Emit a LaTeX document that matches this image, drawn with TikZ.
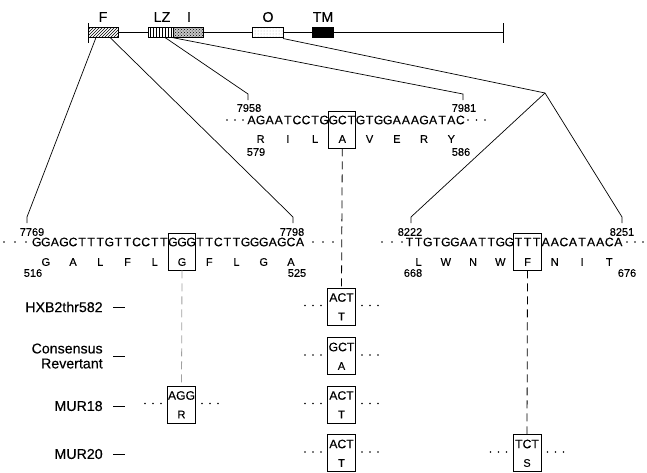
\documentclass[tikz,border=0pt]{standalone}
\usepackage{fontspec}
\setmainfont[FakeBold=0.3]{Liberation Sans}
\usetikzlibrary{patterns}
\definecolor{linkgray}{RGB}{160,160,160}

\def\ntw{9.08}
% one nucleotide per node, fixed pitch
\newcommand\seqrow[4]{%
  \foreach \nuc [count=\n] in {#4}
    \node[nt] (#1\n) at ({#2+(\n-1)*\ntw},#3) {\nuc};}
% one residue per codon
\newcommand\aarow[4]{%
  \foreach \res [count=\n] in {#4}
    \node[aa] (#1\n) at ({#2+(\n-1)*3*\ntw},#3) {\res};}
\newcommand\threedots[3]{%
  \foreach \k in {0,1,2} \fill ({#1+\k*#3},#2) circle (0.9pt);}
% name, x, y, codon, residue
\newcommand\varbox[5]{%
  \node[vbox] (#1) at (#2,#3) {};
  \node[nt] (#1c) at (#2,#3-9) {#4};
  \node[aa] (#1a) at (#2,#3+10) {#5};
  \foreach \d in {20.5,28.5,36.5} {
    \fill ({#2-\d},#3-1) circle (0.9pt);
    \fill ({#2+\d},#3-1) circle (0.9pt);}}

\begin{document}
\begin{tikzpicture}[x=1pt,y=-1pt,line width=0.7pt,
    nt/.style={inner sep=0pt,font=\fontsize{12.2}{14}\selectfont},
    aa/.style={inner sep=0pt,font=\fontsize{11}{13}\selectfont},
    num/.style={inner sep=0pt,font=\fontsize{11}{13}\selectfont},
    lbl/.style={inner sep=0pt,font=\fontsize{14.2}{15}\selectfont},
    dom/.style={draw,line width=0.8pt,minimum height=9.4pt,inner sep=0pt,preaction={fill=white}},
    cbox/.style={draw,line width=0.9pt,minimum width=27.2pt,minimum height=37pt,inner sep=0pt},
    vbox/.style={draw,line width=0.9pt,minimum width=28pt,minimum height=37pt,inner sep=0pt},
    link/.style={dash pattern=on 8pt off 5pt,line width=0.8pt}]
  \useasboundingbox (0,0) rectangle (647,472);
  % Genome map
  \draw (88,32.5) -- (503,32.5);
  \draw (88,23) -- (88,43);
  \draw (503,23) -- (503,43);
  \node[dom,minimum width=30pt,pattern=north east lines] (domF) at (103,32.5) {};
  \node[dom,minimum width=25pt,pattern=vertical lines] (domLZ) at (160.5,32.5) {};
  \node[dom,minimum width=30pt,preaction={fill=gray!45},pattern=crosshatch dots] (domI) at (188,32.5) {};
  \node[dom,minimum width=31pt,pattern=dots,pattern color=gray!60] (domO) at (267.5,32.5) {};
  \node[dom,minimum width=21pt,fill=black] (domTM) at (322.5,32.5) {};
  \node[lbl] (lblF) at (103,17) {F};
  \node[lbl] (lblLZ) at (162,17) {LZ};
  \node[lbl] (lblI) at (189,17) {I};
  \node[lbl] (lblO) at (268,17) {O};
  \node[lbl] (lblTM) at (323,17) {TM};

  % Fan-out to the sequences
  \coordinate (fA) at (96,37.5);
  \coordinate (fB) at (110,37.5);
  \coordinate (lzA) at (165,37.5);
  \coordinate (lzB) at (172,37.5);
  \coordinate (oA) at (283,38.5);
  \coordinate (apex) at (545,93);
  \coordinate (t7769) at (27,217);
  \coordinate (t7798) at (293,217);
  \coordinate (t7958) at (248,94);
  \coordinate (t7981) at (463,94);
  \coordinate (t8222) at (411,217);
  \coordinate (t8251) at (622,217);
  \draw (fA) -- (t7769) -- ++(0,6);
  \draw (fB) -- (t7798) -- ++(0,6);
  \draw (lzA) -- (t7958) -- ++(0,6);
  \draw (lzB) -- (t7981) -- ++(0,6);
  \draw (oA) -- (apex);
  \draw (apex) -- (t8222) -- ++(0,6);
  \draw (apex) -- (t8251) -- ++(0,6);

  % LZ region
  \node[num] (n7958) at (249,108) {7958};
  \node[num] (n7981) at (464,108) {7981};
  \threedots{227}{120}{8}
  \seqrow{ms}{251.5}{120}{A,G,A,A,T,C,C,T,G,G,C,T,G,T,G,G,A,A,A,G,A,T,A,C}
  \threedots{468}{120}{8.5}
  \aarow{ma}{260.6}{139}{R,I,L,A,V,E,R,Y}
  \node[num] (n579) at (256,152) {579};
  \node[num] (n586) at (461,152) {586};
  \node[cbox] (mBox) at (342.3,129.5) {};

  % F region
  \node[num] (n7769) at (32,232) {7769};
  \node[num] (n7798) at (292,232) {7798};
  \threedots{4}{242}{11}
  \seqrow{fs}{36.7}{242}{G,G,A,G,C,T,T,T,G,T,T,C,C,T,T,G,G,G,T,T,C,T,T,G,G,G,A,G,C,A}
  \threedots{313}{242}{10}
  \aarow{fa}{45.8}{262}{G,A,L,F,L,G,F,L,G,A}
  \node[num] (n516) at (33,273) {516};
  \node[num] (n525) at (297,273) {525};
  \node[cbox] (fBox) at (182,251.5) {};

  % O region
  \node[num] (n8222) at (410,232) {8222};
  \node[num] (n8251) at (622,232) {8251};
  \threedots{382}{242}{10}
  \seqrow{rs}{409.5}{242}{T,T,G,T,G,G,A,A,T,T,G,G,T,T,T,A,A,C,A,T,A,A,C,A}
  \threedots{627}{242}{8}
  \aarow{ra}{418.6}{262}{L,W,N,W,F,N,I,T}
  \node[num] (n668) at (413,273) {668};
  \node[num] (n676) at (627,273) {676};
  \node[cbox] (rBox) at (527.5,251.5) {};

  % Isolates
  \node[lbl,anchor=east] (hxbL) at (103,307) {HXB2thr582};
  \node[lbl,anchor=east,align=right] (consL) at (103,356) {Consensus\\Revertant};
  \node[lbl,anchor=east] (mur18L) at (103,406) {MUR18};
  \node[lbl,anchor=east] (mur20L) at (103,454) {MUR20};
  \foreach \r in {hxbL,consL,mur18L,mur20L}
    \draw ([xshift=10pt]\r.east) -- ++(12,0);
  \varbox{hxbM}{341.5}{306.5}{ACT}{T}
  \varbox{consM}{341.5}{356}{GCT}{A}
  \varbox{mur18F}{181.5}{404.5}{AGG}{R}
  \varbox{mur18M}{341.5}{404.5}{ACT}{T}
  \varbox{mur20M}{341.5}{453}{ACT}{T}
  \varbox{mur20R}{527}{453}{TCT}{S}
  \draw[link,linkgray] (fBox.south) -- (mur18F.north);
  \draw[link] (mBox.south) -- (hxbM.north);
  \draw[link] (rBox.south) -- (mur20R.north);
\end{tikzpicture}
\end{document}
